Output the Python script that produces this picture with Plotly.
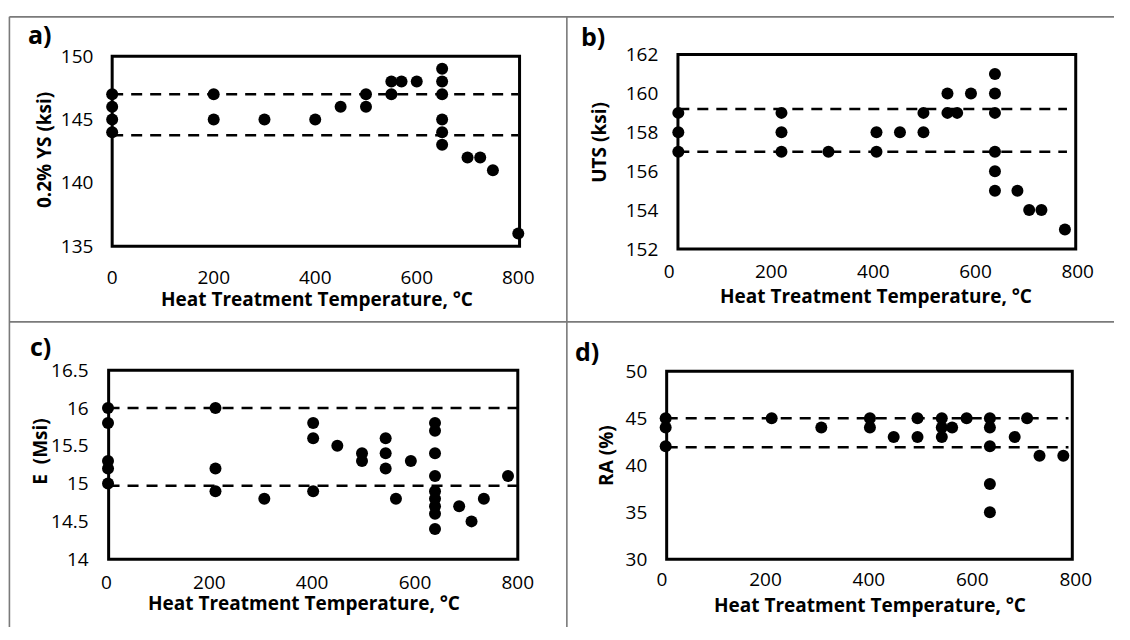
import json
import plotly.graph_objects as go
from plotly.utils import PlotlyJSONEncoder

# ---------------- data ----------------
a_temp = [0, 0, 0, 0, 200, 200, 300, 400, 450, 500, 500, 550, 550, 570, 600,
          650, 650, 650, 650, 650, 650, 700, 725, 750, 800]
a_ys = [147, 146, 145, 144, 147, 145, 145, 145, 146, 147, 146, 148, 147, 148, 148,
        149, 148, 147, 145, 144, 143, 142, 142, 141, 136]
a_limits = [147.0, 143.75]

b_temp = [18, 18, 18, 220, 220, 220, 312, 406, 406, 452, 498, 498, 545, 545, 564, 591,
          638, 638, 638, 638, 638, 638, 682, 705, 729, 775]
b_uts = [159, 158, 157, 159, 158, 157, 157, 158, 157, 158, 159, 158, 160, 159, 159, 160,
         161, 160, 159, 157, 156, 155, 155, 154, 154, 153]
b_limits = [159.2, 157.0]

c_temp = [3, 3, 3, 3, 3, 212, 212, 212, 307, 402, 402, 402, 449, 497, 497,
          543, 543, 543, 563, 592,
          639, 639, 639, 639, 639, 639, 639, 639, 639, 686, 710, 734, 781]
c_e = [16.0, 15.8, 15.3, 15.2, 15.0, 16.0, 15.2, 14.9, 14.8, 15.8, 15.6, 14.9, 15.5, 15.4, 15.3,
       15.6, 15.4, 15.2, 14.8, 15.3,
       15.8, 15.7, 15.4, 15.1, 14.9, 14.8, 14.7, 14.6, 14.4, 14.7, 14.5, 14.8, 15.1]
c_limits = [16.0, 14.97]

d_temp = [7, 7, 7, 212, 308, 402, 402, 448, 494, 494, 541, 541, 541, 561, 589,
          634, 634, 634, 634, 634, 682, 706, 730, 776]
d_ra = [45, 44, 42, 45, 44, 45, 44, 43, 45, 43, 45, 44, 43, 44, 45,
        45, 44, 42, 38, 35, 43, 45, 41, 41]
d_limits = [45.0, 41.9]

x_ticks = [0, 200, 400, 600, 800]
a_ticks = [135, 140, 145, 150]
b_ticks = [152, 154, 156, 158, 160, 162]
c_ticks = [14, 14.5, 15, 15.5, 16, 16.5]
d_ticks = [30, 35, 40, 45, 50]

x_title = "Heat Treatment Temperature, °C"
y_titles = ["0.2% YS (ksi)", "UTS (ksi)", "E\u00a0\u00a0(Msi)", "RA (%)"]
panel_labels = ["a)", "b)", "c)", "d)"]

# ---------------- layout (page pixel positions) ----------------
PAGE_W, PAGE_H = 1130, 640
FONT = "Open Sans"
TICK_FS = 19
TITLE_FS = 19

panels = [
    dict(x=a_temp, y=a_ys, lim=a_limits, ticks=a_ticks, yr=[135, 150],
         xd=(109.2, 523.0), yd=(243.0, 45.0), frame=(109.2, 524.3, 45.0, 243.0),
         ytl=14, xtl=14, dash_x=[(0, 800), (0, 800)],
         xt=(318, 298.5), yt=(39.6, 143), lab=(36, 21.5)),
    dict(x=b_temp, y=b_uts, lim=b_limits, ticks=b_ticks, yr=[152, 162],
         xd=(676.7, 1093.0), yd=(246.0, 43.3), frame=(685.7, 1091.0, 43.3, 246.0),
         ytl=6, xtl=5, dash_x=[(18, 779), (18, 779)],
         xt=(888, 294.5), yt=(604.5, 135), lab=(599, 24)),
    dict(x=c_temp, y=c_e, lim=c_limits, ticks=c_ticks, yr=[14, 16.5],
         xd=(103.4, 522.5), yd=(569.3, 372.3), frame=(105.6, 522.5, 372.3, 569.3),
         ytl=13, xtl=6, dash_x=[(4, 814), (4, 834)],
         xt=(305, 614.5), yt=(36, 457), lab=(36, 347)),
    dict(x=d_temp, y=d_ra, lim=d_limits, ticks=d_ticks, yr=[30, 50],
         xd=(669.5, 1091.0), yd=(569.3, 373.3), frame=(674.2, 1087.5, 373.3, 569.3),
         ytl=10, xtl=3, dash_x=[(9, 786), (9, 786)],
         xt=(881, 617), yt=(613, 461), lab=(593, 352)),
]


def make_layout(off):
    """Layout for a figure placed at page offset `off` (browser body margin)."""
    W, H = PAGE_W - 2 * off, PAGE_H - 2 * off

    def px(x):
        return (x - off) / W

    def py(y):
        return 1 - (y - off) / H

    shapes, annotations, axes = [], [], {}
    for i, p in enumerate(panels):
        n = "" if i == 0 else str(i + 1)
        xa, ya = "x" + n, "y" + n
        axes["xaxis" + n] = dict(
            domain=[px(p["xd"][0]), px(p["xd"][1])], range=[0, 800], anchor=ya,
            tickvals=x_ticks, ticks="outside", ticklen=p["xtl"], tickcolor="rgba(0,0,0,0)",
            showgrid=False, zeroline=False, showline=False,
            tickfont=dict(family=FONT, size=TICK_FS, color="black"), fixedrange=True)
        axes["yaxis" + n] = dict(
            domain=[py(p["yd"][0]), py(p["yd"][1])], range=p["yr"], anchor=xa,
            tickvals=p["ticks"], ticks="outside", ticklen=p["ytl"], tickcolor="rgba(0,0,0,0)",
            showgrid=False, zeroline=False, showline=False,
            tickfont=dict(family=FONT, size=TICK_FS, color="black"), fixedrange=True)
        l, r, t, b = p["frame"]
        shapes.append(dict(type="rect", xref="paper", yref="paper",
                           x0=px(l), x1=px(r), y0=py(b), y1=py(t),
                           line=dict(color="black", width=3), layer="below"))
        for lv, (x0, x1) in zip(p["lim"], p["dash_x"]):
            shapes.append(dict(type="line", xref=xa, yref=ya, x0=x0, x1=x1, y0=lv, y1=lv,
                               line=dict(color="black", width=2.5, dash="11px,8px"),
                               layer="below"))
        annotations.append(dict(text="<b>" + x_title + "</b>", x=px(p["xt"][0]), y=py(p["xt"][1]),
                                xref="paper", yref="paper", showarrow=False,
                                xanchor="center", yanchor="middle",
                                font=dict(family=FONT, size=TITLE_FS, color="black")))
        annotations.append(dict(text="<b>" + y_titles[i] + "</b>", x=px(p["yt"][0]), y=py(p["yt"][1]),
                                xref="paper", yref="paper", showarrow=False, textangle=-90,
                                xanchor="center", yanchor="middle",
                                font=dict(family=FONT, size=TITLE_FS, color="black")))
        annotations.append(dict(text="<b>" + panel_labels[i] + "</b>", x=px(p["lab"][0]), y=py(p["lab"][1]),
                                xref="paper", yref="paper", showarrow=False,
                                xanchor="center", yanchor="middle",
                                font=dict(family=FONT, size=25, color="black")))

    grey = dict(color="#7a7a7a", width=1.6)
    top = min(1.0, py(4))
    if off < 4:
        shapes.append(dict(type="line", xref="paper", yref="paper", x0=px(4.5), x1=px(4.5),
                           y0=0, y1=top, line=grey))
        shapes.append(dict(type="line", xref="paper", yref="paper", x0=px(4.5), x1=1,
                           y0=top, y1=top, line=grey))
    shapes.append(dict(type="line", xref="paper", yref="paper", x0=px(572.5), x1=px(572.5),
                       y0=0, y1=top, line=grey))
    shapes.append(dict(type="line", xref="paper", yref="paper", x0=max(0.0, px(4.5)), x1=1,
                       y0=py(322), y1=py(322), line=grey))

    return dict(width=W, height=H, autosize=False,
                margin=dict(l=0, r=0, t=0, b=0, pad=0),
                paper_bgcolor="white", plot_bgcolor="rgba(0,0,0,0)",
                shapes=shapes, annotations=annotations, showlegend=False, **axes)


fig = go.Figure()
for i, p in enumerate(panels):
    n = "" if i == 0 else str(i + 1)
    fig.add_trace(go.Scatter(
        x=p["x"], y=p["y"], mode="markers", xaxis="x" + n, yaxis="y" + n,
        marker=dict(size=12, color="black"), cliponaxis=False, showlegend=False,
        hoverinfo="x+y"))

# initial layout fits inside the default 8 px body margin (page = 1130x640)
fig.update_layout(**make_layout(8))

# once drawn, remove the body margin and switch to the full-window layout
full_layout = go.Figure(layout=make_layout(0)).layout.to_plotly_json()
full_layout.pop("template", None)
post = ("document.body.style.margin='0';document.body.style.overflow='hidden';"
        "var gd=document.querySelector('.plotly-graph-div');"
        "gd.style.width='1130px';gd.style.height='640px';"
        "Plotly.relayout(gd," + json.dumps(full_layout, cls=PlotlyJSONEncoder) + ");")

fig.write_html("out.html", config={"displayModeBar": False, "responsive": False},
               post_script=post)
